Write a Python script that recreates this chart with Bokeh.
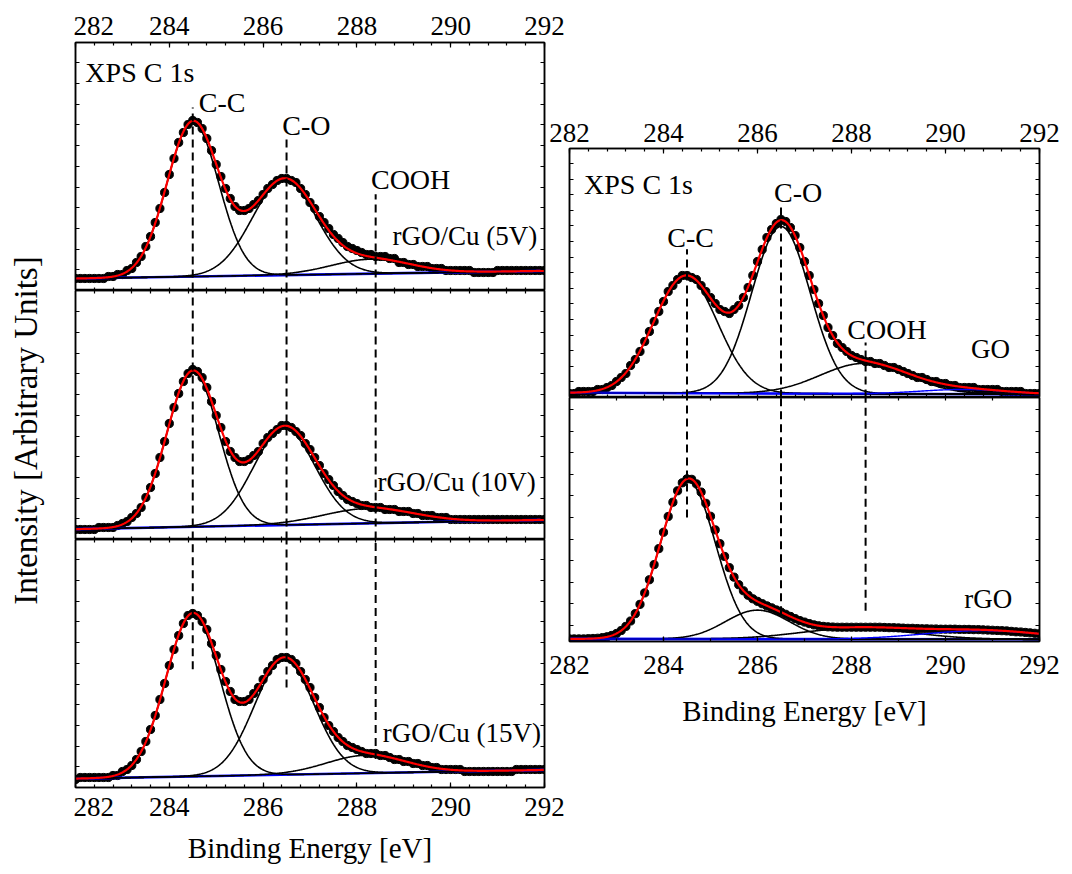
import numpy as np
from bokeh.plotting import figure
from bokeh.layouts import row, column
from bokeh.models import Range1d, SingleIntervalTicker, FixedTicker, LinearAxis, Label
from bokeh.embed import file_html
from bokeh.resources import INLINE

FONT = "'Liberation Serif', 'Times New Roman', Times, 'DejaVu Serif', serif"

# ---------------- data ----------------
energy = [round(282 + 0.1 * i, 1) for i in range(101)]   # binding energy grid, eV

# measured C 1s intensities (arbitrary units)
dots_5v = [6, 6, 6, 6, 6, 6, 6, 7, 7, 8, 8, 10, 11, 14, 17, 22, 27, 34, 41, 49, 58, 66, 74, 79, 83, 85,
           84, 81, 76, 70, 63, 57, 51, 46, 42, 40, 40, 41, 43, 45, 48, 51, 53, 55, 56, 56, 55, 54, 51, 48, 44,
           41, 37, 34, 31, 28, 26, 24, 22, 21, 20, 19, 18, 18, 17, 17, 17, 16, 16, 14, 14, 13, 13, 12, 12, 12,
           11, 11, 11, 10, 10, 10, 10, 10, 10, 9, 9, 9, 9, 9, 10, 10, 10, 10, 10, 10, 10, 10, 10, 10, 10]
dots_10v = [5, 5, 5, 5, 5, 6, 6, 6, 6, 7, 8, 9, 11, 13, 16, 21, 26, 33, 41, 49, 58, 66, 73, 79, 83, 85,
            84, 81, 76, 69, 62, 56, 49, 44, 41, 39, 39, 40, 42, 44, 48, 51, 53, 55, 57, 57, 56, 54, 52, 48, 45,
            41, 37, 33, 30, 27, 24, 22, 20, 19, 18, 17, 17, 16, 16, 16, 15, 15, 15, 14, 14, 14, 13, 13, 12, 12,
            12, 11, 11, 11, 10, 10, 10, 10, 10, 10, 10, 10, 10, 10, 10, 10, 10, 10, 10, 10, 10, 10, 10, 10, 10]
dots_15v = [4, 5, 5, 5, 5, 5, 5, 5, 6, 6, 8, 9, 11, 14, 18, 23, 29, 36, 44, 52, 61, 69, 76, 82, 86, 87,
            86, 83, 79, 72, 66, 59, 53, 48, 44, 43, 43, 44, 47, 50, 54, 58, 61, 64, 65, 65, 64, 62, 58, 54, 50,
            45, 40, 35, 31, 28, 25, 23, 21, 20, 19, 18, 17, 17, 17, 16, 16, 15, 14, 14, 13, 13, 12, 12, 11, 11,
            10, 10, 9, 9, 9, 9, 9, 8, 8, 8, 8, 8, 8, 8, 8, 8, 8, 8, 9, 9, 9, 9, 9, 9, 9]
dots_go = [2, 2, 3, 3, 3, 3, 4, 4, 5, 6, 8, 10, 12, 16, 19, 23, 28, 33, 38, 43, 48, 53, 56, 59, 61, 61,
           60, 59, 56, 53, 50, 47, 44, 43, 42, 44, 46, 50, 55, 61, 68, 74, 80, 84, 87, 89, 88, 85, 81, 75, 68,
           61, 54, 47, 41, 35, 31, 27, 25, 23, 21, 20, 19, 18, 18, 17, 17, 16, 15, 15, 14, 13, 12, 11, 10, 10,
           9, 8, 8, 7, 7, 6, 6, 5, 5, 5, 5, 4, 4, 4, 4, 4, 3, 3, 3, 3, 3, 2, 2, 2, 2]
dots_rgo = [0.12, 0.12, 0.12, 0.12, 0.13, 0.14, 0.15, 0.18, 0.22, 0.28, 0.37, 0.51, 0.7, 0.95, 1.29, 1.72,
            2.25, 2.86, 3.56, 4.3, 5.06, 5.79, 6.45, 6.98, 7.35, 7.53, 7.51, 7.3, 6.92, 6.4, 5.8, 5.17, 4.53,
            3.94, 3.42, 2.98, 2.63, 2.35, 2.14, 1.98, 1.86, 1.75, 1.65, 1.56, 1.46, 1.36, 1.26, 1.16, 1.06,
            0.97, 0.9, 0.83, 0.77, 0.73, 0.7, 0.68, 0.67, 0.66, 0.66, 0.66, 0.66, 0.66, 0.66, 0.66, 0.66,
            0.66, 0.66, 0.65, 0.64, 0.64, 0.63, 0.62, 0.61, 0.61, 0.6, 0.59, 0.59, 0.58, 0.58, 0.57, 0.57,
            0.57, 0.57, 0.56, 0.56, 0.56, 0.55, 0.55, 0.54, 0.53, 0.52, 0.51, 0.5, 0.49, 0.47, 0.45, 0.44,
            0.42, 0.4, 0.38, 0.36]

# fitted components: centre (eV), height, FWHM (eV); linear background end values
peaks_5v = dict(c=[284.5, 286.45, 288.3], h=[77.1, 47.6, 7.25], w=[1.3, 1.6, 2.0])
bg_5v = [6.0, 9.83]
peaks_10v = dict(c=[284.5, 286.45, 288.25], h=[77.6, 48.1, 7.45], w=[1.3, 1.55, 2.3])
bg_10v = [5.18, 9.83]
peaks_15v = dict(c=[284.5, 286.45, 288.2], h=[81.2, 57.4, 9.0], w=[1.35, 1.5, 2.0])
bg_15v = [4.45, 8.8]
peaks_go = dict(c=[284.47, 286.5, 288.27], h=[58.5, 83.5, 15.2], w=[1.6, 1.46, 2.2])
sat_go = [290.4, 2.34, 2.2]
bg_go = [2.34, 1.56]
peaks_rgo = dict(c=[284.52, 286.0, 288.1], h=[7.3, 1.34, 0.5], w=[1.38, 1.6, 2.8])
sat_rgo = [290.8, 0.4, 3.0]
bg_rgo = [0.12, 0.10]

# reference lines for C-C, C-O, COOH
dash_left_x = [284.5, 286.5, 288.4]
dash_right_x = [284.5, 286.5, 288.3]

xf = np.linspace(282, 292, 601)


def gauss(x, c, h, w):
    return h * np.exp(-4 * np.log(2) * (np.asarray(x, dtype=float) - c) ** 2 / w ** 2)


def style_axis(ax, font_size="27px", standoff=6):
    ax.axis_line_width = 1.5
    ax.axis_line_color = "black"
    ax.major_tick_in = 5
    ax.major_tick_out = 0
    ax.minor_tick_in = 3
    ax.minor_tick_out = 0
    ax.major_tick_line_width = 1.2
    ax.minor_tick_line_width = 1.2
    ax.major_label_text_font = FONT
    ax.major_label_text_color = "black"
    ax.major_label_text_font_size = font_size
    ax.major_label_standoff = standoff
    ax.axis_label_text_font = FONT
    ax.axis_label_text_font_style = "normal"
    ax.axis_label_text_color = "black"


def tick_axis(p, side, ticks, tick_len=3):
    ax = LinearAxis(ticker=FixedTicker(ticks=[], minor_ticks=ticks))
    style_axis(ax, standoff=0)
    ax.minor_tick_in = tick_len
    p.add_layout(ax, side)


def make_fig(fw, fh, ytop, yticks, bl, br, bt, bb, xminor=5, transparent=False):
    p = figure(frame_width=fw, frame_height=fh, x_range=Range1d(282, 292), y_range=Range1d(0, ytop),
               output_backend="svg", toolbar_location=None, x_axis_location=None, y_axis_location=None,
               min_border_left=bl, min_border_right=br, min_border_top=bt, min_border_bottom=bb)
    p.grid.visible = False
    p.outline_line_color = "black"
    p.outline_line_width = 1.5
    p.background_fill_color = "white"
    if transparent:
        p.border_fill_alpha = 0
    for side in ("left", "right"):
        tick_axis(p, side, yticks, 4)
    p._xminor = xminor
    return p


def add_xaxis(p, side, title=None, standoff=6, title_standoff=10):
    ax = LinearAxis(ticker=SingleIntervalTicker(interval=2, num_minor_ticks=p._xminor))
    style_axis(ax, standoff=standoff)
    if title:
        ax.axis_label = title
        ax.axis_label_text_font_size = "29px"
        ax.axis_label_standoff = title_standoff
    p.add_layout(ax, side)
    return ax


def draw(p, dots, peaks, bg, sat=None):
    bl = bg[0] + (bg[1] - bg[0]) * (xf - 282) / 10
    total = bl.copy()
    p.scatter(energy, dots, size=8.2, color="black")
    p.line([282, 292], bg, color="#0000ff", line_width=2.6)
    for c, h, w in zip(peaks["c"], peaks["h"], peaks["w"]):
        comp = gauss(xf, c, h, w)
        total = total + comp
        p.line(xf, bl + comp, color="black", line_width=1.6)
    if sat:
        comp = gauss(xf, *sat)
        total = total + comp
        p.line(xf, bl + comp, color="#0000ff", line_width=1.4)
    p.line(xf, total, color="#ff0000", line_width=2.2)


def dashes(p, xs, y0, y1):
    p.segment(x0=xs, y0=y0, x1=xs, y1=y1, color="black", line_width=2, line_dash="8 5")


def label(p, x, y, text, size="28px"):
    p.add_layout(Label(x=x, y=y, text=text, text_font=FONT, text_font_size=size,
                       text_color="black", text_align="left", text_baseline="alphabetic"))


ticks_left = [10.35 * k for k in range(1, 12)]
ticks_go = [7.8 * k for k in range(1, 16)]
ticks_rgo = [0.74 + k for k in range(11)]
xt_fine = [282 + 0.4 * k for k in range(1, 25)]
xt_coarse = [283 + k for k in range(9)]

# ---------------- y title ----------------
pt = figure(frame_width=73, frame_height=858, x_range=Range1d(0, 73), y_range=Range1d(0, 858),
            output_backend="svg", toolbar_location=None, x_axis_location=None, y_axis_location=None,
            min_border=0, outline_line_color=None)
pt.grid.visible = False
pt.background_fill_alpha = 0
pt.border_fill_alpha = 0
pt.add_layout(Label(x=25.3, y=428, text="Intensity [Arbitrary Units]", angle=np.pi / 2,
                    text_font=FONT, text_font_size="33px", text_color="black",
                    text_align="center", text_baseline="alphabetic"))

# ---------------- left column ----------------
pa = make_fig(469, 248, 124, ticks_left, 2, 24, 42, 0)
add_xaxis(pa, "above", standoff=8)
tick_axis(pa, "below", xt_fine)
draw(pa, dots_5v, peaks_5v, bg_5v)
dashes(pa, dash_left_x, [0, 0, 0], [91.5, 75.7, 48.1])
label(pa, 282.21, 109.0, "XPS C 1s")
label(pa, 284.63, 94.0, "C-C")
label(pa, 286.41, 82.7, "C-O")
label(pa, 288.30, 55.7, "COOH")
label(pa, 288.76, 27.3, "rGO/Cu (5V)", "27px")

pb = make_fig(469, 249, 124.5, ticks_left, 2, 24, 0, 0)
tick_axis(pb, "above", xt_fine)
tick_axis(pb, "below", xt_fine)
draw(pb, dots_10v, peaks_10v, bg_10v)
dashes(pb, dash_left_x, [0, 0, 0], [124.5, 124.5, 124.5])
label(pb, 288.44, 28.9, "rGO/Cu (10V)", "27px")

pc = make_fig(469, 248, 124, ticks_left, 2, 24, 0, 10)
tick_axis(pc, "above", xt_fine)
add_xaxis(pc, "below", title="Binding Energy [eV]", standoff=10, title_standoff=13)
draw(pc, dots_15v, peaks_15v, bg_15v)
dashes(pc, dash_left_x, [59.1, 50.0, 14.2], [124, 124, 124])
label(pc, 288.55, 27.5, "rGO/Cu (15V)", "27px")

# ---------------- right column ----------------
pd_ = make_fig(470, 249, 124.5, ticks_go, 31, 21, 148, 0, transparent=True)
add_xaxis(pd_, "above", standoff=7)
tick_axis(pd_, "below", xt_fine)
draw(pd_, dots_go, peaks_go, bg_go, sat=sat_go)
dashes(pd_, dash_right_x, [0, 0, 0], [74.1, 95.9, 27.5])
label(pd_, 282.31, 106.6, "XPS C 1s")
label(pd_, 284.08, 80.0, "C-C")
label(pd_, 286.35, 102.5, "C-O")
label(pd_, 287.91, 34.2, "COOH")
label(pd_, 290.54, 24.2, "GO", "27px")

pe = make_fig(470, 244, 11.3, ticks_rgo, 31, 21, 0, 10, xminor=2, transparent=True)
tick_axis(pe, "above", xt_coarse)
add_xaxis(pe, "below", title="Binding Energy [eV]", standoff=14, title_standoff=18)
draw(pe, dots_rgo, peaks_rgo, bg_rgo, sat=sat_rgo)
dashes(pe, dash_right_x, [5.74, 1.26, 1.42], [11.3, 11.3, 11.3])
label(pe, 290.40, 1.99, "rGO", "27px")

left = column(pa, pb, pc, spacing=0)
right = column(pd_, pe, spacing=0, styles={"margin-left": "-30px"})
layout = row(pt, left, right, spacing=0)

open("out.html", "w").write(file_html(layout, INLINE))
